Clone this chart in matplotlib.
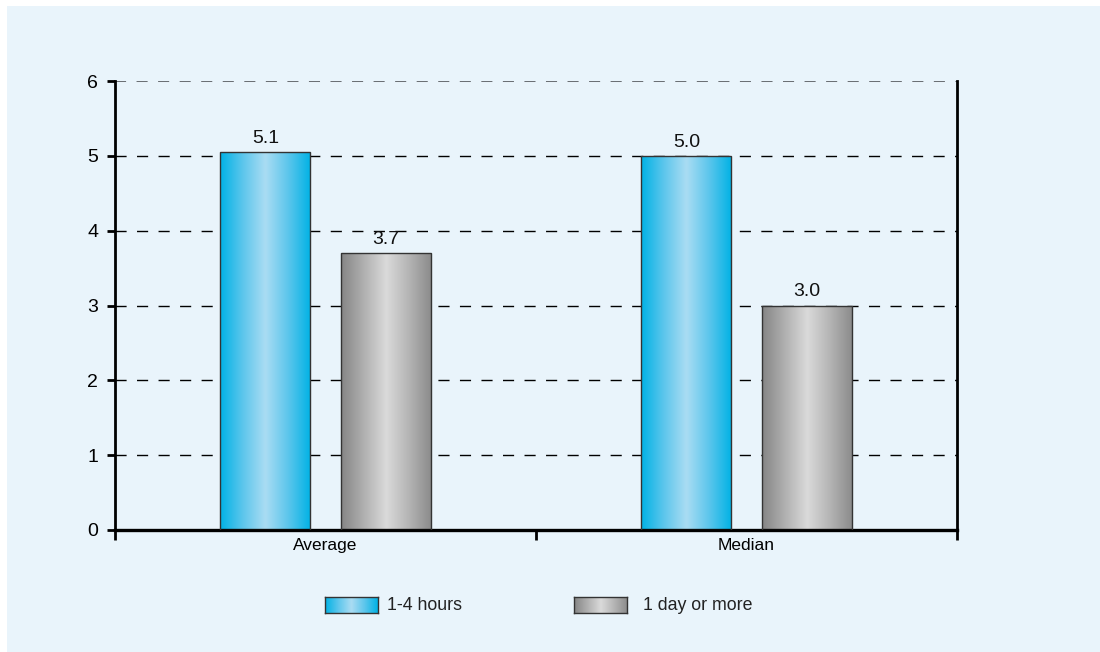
import numpy as np
import matplotlib
matplotlib.use("Agg")
import matplotlib.pyplot as plt
from matplotlib.colors import LinearSegmentedColormap
from matplotlib.patches import Rectangle

categories = ["Average", "Median"]
series_names = ["1-4 hours", "1 day or more"]
hours_values = [5.05, 5.0]
day_values = [3.7, 3.0]
value_labels = [["5.1", "5.0"], ["3.7", "3.0"]]
y_ticks = [0, 1, 2, 3, 4, 5, 6]

font = "Liberation Sans"

blue_cmap = LinearSegmentedColormap.from_list(
    "blue_bar", ["#00b2e5", "#5cc6ec", "#aadcf3", "#5cc6ec", "#00b2e5"])
gray_cmap = LinearSegmentedColormap.from_list(
    "gray_bar", ["#858585", "#b0b0b0", "#dadada", "#b4b4b4", "#8a8a8a"])

fig = plt.figure(figsize=(11, 6.52), dpi=100)
fig.patch.set_facecolor("white")
fig.patches.append(Rectangle((7 / 1100, 0), 1 - 7 / 1100, 1 - 6 / 652,
                             transform=fig.transFigure, facecolor="#e9f4fb",
                             edgecolor="none", zorder=-10))

ax = fig.add_axes([115 / 1100, 1 - 530 / 652, (957 - 115) / 1100, (530 - 81) / 652])
ax.set_facecolor("none")

gradient = np.linspace(0, 1, 256).reshape(1, -1)


def gradient_bar(x, h, width, cmap):
    bar = ax.bar(x, h, width=width, color="none", edgecolor="#333333",
                 linewidth=1.0, zorder=3)[0]
    im = ax.imshow(gradient, cmap=cmap, aspect="auto",
                   extent=(x - width / 2, x + width / 2, 0, h), zorder=2)
    im.set_clip_path(bar)
    return bar


x = np.arange(len(categories))
width = 0.214
offset = 0.143
for i in range(len(categories)):
    gradient_bar(x[i] - offset, hours_values[i], width, blue_cmap)
    gradient_bar(x[i] + offset, day_values[i], width, gray_cmap)
    ax.text(x[i] - offset, hours_values[i] + 0.07, value_labels[0][i],
            ha="center", va="bottom", fontsize=14, family=font, color="#111111")
    ax.text(x[i] + offset, day_values[i] + 0.07, value_labels[1][i],
            ha="center", va="bottom", fontsize=14, family=font, color="#111111")

ax.set_xlim(-0.5, 1.5)
ax.set_ylim(0, 6)

# dashed grid lines
for yv in y_ticks[1:]:
    top = yv == 6
    ax.axhline(yv, color="#6b7075" if top else "#000000",
               linestyle=(0, (8, 7.5)) if not top else (0, (5.5, 5.2)),
               linewidth=1.0 if not top else 1.45, zorder=1)

ax.spines["top"].set_visible(False)
ax.spines["left"].set_linewidth(2.0)
ax.spines["right"].set_linewidth(2.0)
ax.spines["bottom"].set_linewidth(2.4)

ax.set_yticks(y_ticks)
ax.set_yticklabels([str(t) for t in y_ticks], family=font, fontsize=14)
ax.tick_params(axis="y", direction="out", length=6, width=2, pad=6)

ax.set_xticks([-0.5, 0.5, 1.5])
ax.set_xticklabels([])
ax.set_xticks(x, minor=True)
ax.set_xticklabels(categories, minor=True, family=font, fontsize=12.5)
ax.tick_params(axis="x", which="major", direction="out", length=7, width=2)
ax.tick_params(axis="x", which="minor", length=0, pad=6)

# legend swatches
legend_items = [(325, series_names[0], blue_cmap, 387), (574, series_names[1], gray_cmap, 643)]
for left, label, cmap, tx in legend_items:
    sax = fig.add_axes([left / 1100, 1 - 613 / 652, 53 / 1100, 16 / 652])
    sax.imshow(gradient, cmap=cmap, aspect="auto", extent=(0, 1, 0, 1))
    sax.set_xticks([])
    sax.set_yticks([])
    for sp in sax.spines.values():
        sp.set_color("#333333")
        sp.set_linewidth(1.0)
    fig.text(tx / 1100, 1 - 605 / 652, label, ha="left", va="center",
             family=font, fontsize=12.8, color="#222222")

fig.savefig("out.png", dpi=100, facecolor=fig.get_facecolor())
